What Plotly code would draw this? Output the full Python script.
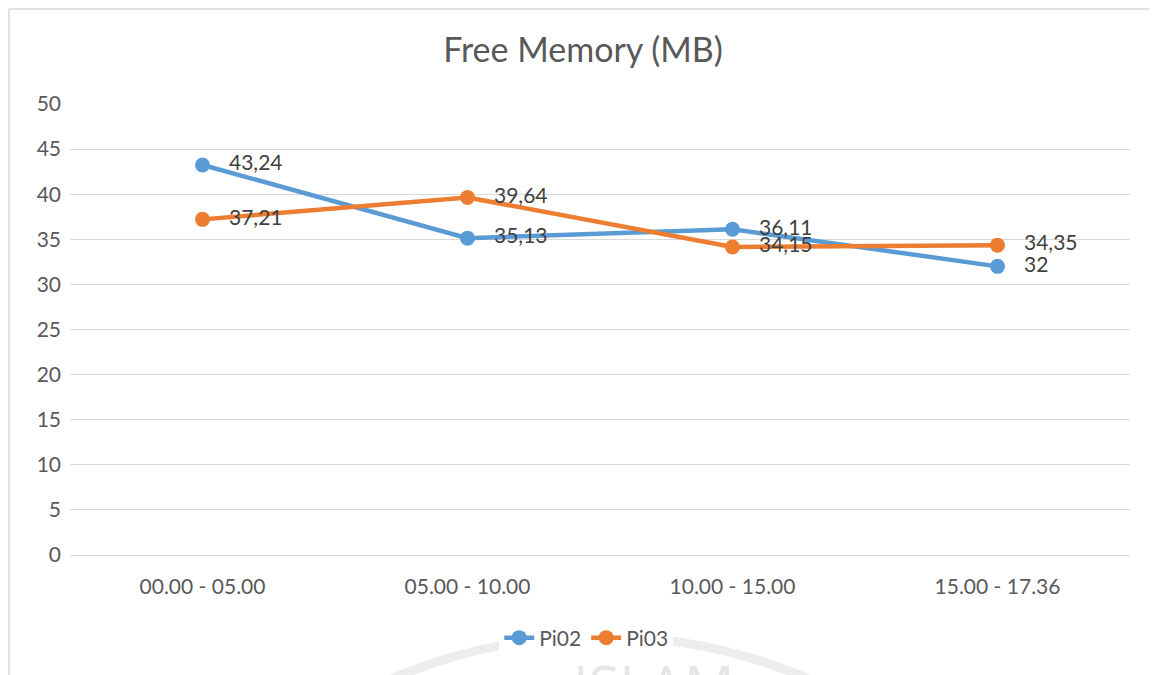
import plotly.graph_objects as go

categories = ["00.00 - 05.00", "05.00 - 10.00", "10.00 - 15.00", "15.00 - 17.36"]
pi02 = [43.24, 35.13, 36.11, 32]
pi03 = [37.21, 39.64, 34.15, 34.35]


def labels(values):
    # comma decimal separator, like the source workbook
    return ["   " + f"{v:g}".replace(".", ",") for v in values]


FONT = "Lato, 'Open Sans', sans-serif"
BLUE = "#5B9BD5"
ORANGE = "#ED7D31"

fig = go.Figure()
for name, vals, col in [("Pi02", pi02, BLUE), ("Pi03", pi03, ORANGE)]:
    fig.add_trace(go.Scatter(
        x=categories, y=vals, name=name, mode="lines+markers+text",
        line=dict(color=col, width=4.5), marker=dict(size=15, color=col),
        text=labels(vals), textposition="middle right",
        textfont=dict(size=21, color="#404040", family=FONT),
    ))

# page body adds ~8px offset, margins compensate
fig.update_layout(
    width=1157, height=675,
    margin=dict(l=62, r=35, t=96, b=128),
    paper_bgcolor="white", plot_bgcolor="white",
    font=dict(family=FONT, color="#595959", size=21),
    title=dict(text="Free Memory (MB)", xref="paper", x=0.484, xanchor="center",
               y=0.938, yanchor="middle",
               font=dict(size=34, color="#595959", family=FONT)),
    showlegend=True,
    legend=dict(orientation="h", x=0.487, xanchor="center", y=-0.184, yanchor="middle",
                font=dict(size=21, color="#595959"), traceorder="normal"),
    xaxis=dict(range=[-0.5, 3.5], showgrid=False, zeroline=False, showline=False,
               ticks="", ticklabelstandoff=17, tickfont=dict(size=21)),
    yaxis=dict(range=[0, 50], dtick=5, showgrid=True, gridcolor="#d9d9d9", gridwidth=1.4,
               zeroline=True, zerolinecolor="#d9d9d9", zerolinewidth=1.4, showline=False,
               ticks="", ticklabelstandoff=8, tickfont=dict(size=21)),
    shapes=[
        # chart border (top and left edges visible)
        dict(type="line", xref="paper", yref="paper", x0=-0.0575, x1=1.1, y0=1.2106, y1=1.2106,
             line=dict(color="#d9d9d9", width=1.5)),
        dict(type="line", xref="paper", yref="paper", x0=-0.0575, x1=-0.0575, y0=1.2106, y1=-0.3,
             line=dict(color="#d9d9d9", width=1.5)),
        # faint watermark ring
        dict(type="circle", xref="paper", yref="paper", x0=-0.003, x1=1.003, y0=-0.18, y1=-2.55,
             line=dict(color="#ededed", width=9), layer="below"),
    ],
    annotations=[
        dict(text="ISLAM", xref="paper", yref="paper", x=0.55, y=-0.2, xanchor="center",
             yanchor="top", showarrow=False,
             font=dict(size=56, color="#e6e6e6", family="'Open Sans', sans-serif")),
    ],
)

fig.write_html("out.html")
